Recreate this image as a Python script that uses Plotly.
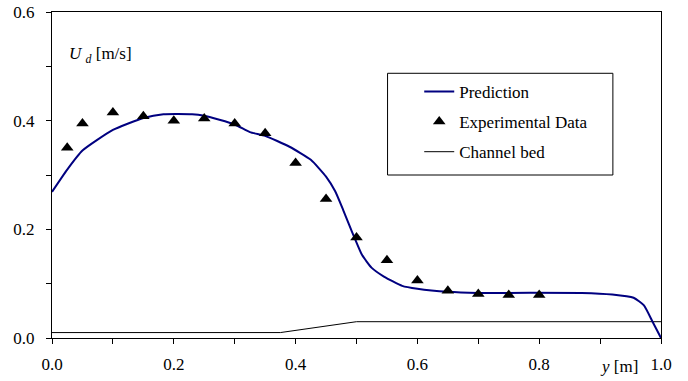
import plotly.graph_objects as go

# Prediction curve
pred_x = [0.0, 0.025, 0.05, 0.1, 0.15, 0.183, 0.23, 0.25, 0.3, 0.325, 0.35, 0.39, 0.425, 0.45,
          0.465, 0.478, 0.488, 0.498, 0.509, 0.525, 0.545, 0.575, 0.6, 0.65, 0.7, 0.87, 0.92,
          0.955, 0.972, 0.987, 1.0]
pred_y = [0.269, 0.31, 0.345, 0.383, 0.405, 0.412, 0.412, 0.409, 0.393, 0.379, 0.372, 0.352,
          0.328, 0.297, 0.27, 0.236, 0.208, 0.181, 0.153, 0.129, 0.113, 0.096, 0.0906, 0.085,
          0.083, 0.083, 0.080, 0.074, 0.060, 0.028, 0.0]

# Experimental data
exp_x = [0.025, 0.05, 0.1, 0.15, 0.2, 0.25, 0.3, 0.35, 0.4, 0.45, 0.5, 0.55, 0.6, 0.65, 0.7, 0.75, 0.8]
exp_y = [0.35, 0.395, 0.415, 0.408, 0.40, 0.404, 0.395, 0.377, 0.322, 0.256, 0.185, 0.143,
         0.106, 0.087, 0.081, 0.079, 0.079]

# Channel bed
bed_x = [0.0, 0.375, 0.5, 1.0]
bed_y = [0.01, 0.01, 0.03, 0.03]

FONT = "Liberation Serif, Times New Roman, Times, serif"

fig = go.Figure()
fig.add_trace(go.Scatter(x=bed_x, y=bed_y, mode="lines", name="Channel bed",
                         line=dict(color="black", width=1), legendrank=3, legendgroup="c"))
fig.add_trace(go.Scatter(x=pred_x, y=pred_y, mode="lines", name="Prediction",
                         line=dict(color="#000080", width=2, shape="spline", smoothing=0.5),
                         legendrank=1, legendgroup="a"))
fig.add_trace(go.Scatter(x=exp_x, y=exp_y, mode="markers", name="Experimental Data",
                         marker=dict(symbol="triangle-up", size=11, color="black"),
                         legendrank=2, legendgroup="b"))

fig.update_layout(
    width=688, height=381, autosize=False,
    margin=dict(l=52, r=27, t=12, b=43, autoexpand=False),
    paper_bgcolor="white", plot_bgcolor="white",
    font=dict(family=FONT, size=17, color="black"),
    showlegend=True,
    legend=dict(x=0.603, y=0.810, xanchor="left", yanchor="top",
                bgcolor="rgba(0,0,0,0)", borderwidth=0,
                font=dict(family=FONT, size=17, color="black"),
                tracegroupgap=5),
    xaxis=dict(range=[0, 1], dtick=0.2, tickformat=".1f", showgrid=False, zeroline=False,
               showline=True, linecolor="black", linewidth=1, mirror=True, automargin=False,
               ticks="outside", ticklen=5, tickcolor="black", ticklabelstandoff=6,
               minor=dict(dtick=0.1, ticks="outside", ticklen=5, tickcolor="black")),
    yaxis=dict(range=[0, 0.6], dtick=0.2, tickformat=".1f", showgrid=False, zeroline=False,
               showline=True, linecolor="black", linewidth=1, mirror=True, automargin=False,
               ticks="outside", ticklen=5, tickcolor="black", ticklabelstandoff=8,
               minor=dict(dtick=0.1, ticks="outside", ticklen=5, tickcolor="black")),
    shapes=[dict(type="rect", xref="paper", yref="paper", x0=0.551, x1=0.921, y0=0.50, y1=0.812,
                 line=dict(color="black", width=1), fillcolor="rgba(0,0,0,0)")],
    annotations=[
        dict(text="<i>U</i> <sub><i>d</i></sub> [m/s]", xref="paper", yref="paper",
             x=0.025, y=0.868, xanchor="left", yanchor="middle", showarrow=False,
             font=dict(family=FONT, size=17, color="black")),
        dict(text="<i>y</i> [m]", xref="paper", yref="paper",
             x=(598 - 52) / 609, y=-0.086, xanchor="left", yanchor="middle", showarrow=False,
             font=dict(family=FONT, size=17, color="black")),
    ],
)

fig.write_html("out.html", config={"displayModeBar": False, "responsive": False},
               post_script="document.body.style.margin='0px';")
